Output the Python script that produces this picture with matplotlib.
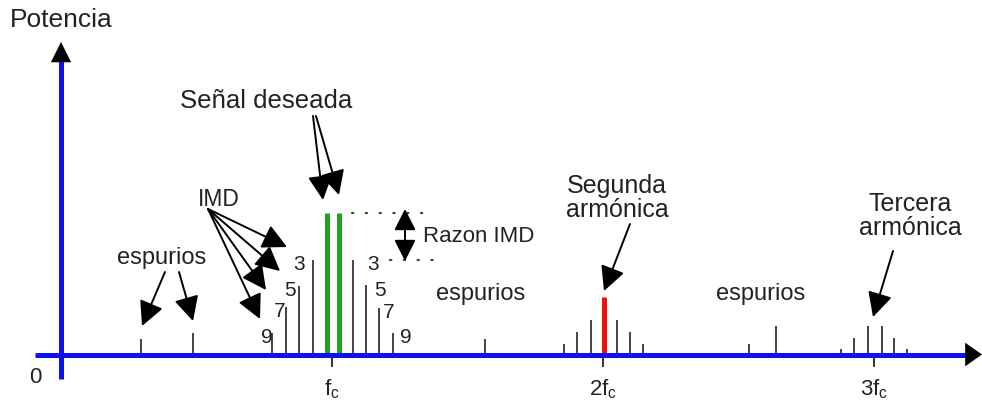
import numpy as np
import matplotlib
matplotlib.use("Agg")
import matplotlib.pyplot as plt

plt.rcParams['font.family'] = ['Liberation Sans', 'DejaVu Sans']
plt.rcParams['mathtext.fontset'] = 'custom'
plt.rcParams['mathtext.rm'] = 'Liberation Sans'
plt.rcParams['mathtext.it'] = 'Liberation Sans'
plt.rcParams['mathtext.default'] = 'rm'

# frequencies in multiples of fc, power in arbitrary units
spur_f = [0.294, 0.488, 1.563, 2.538, 2.638]
spur_p = [16, 22, 16, 11, 29]

imd_left_f = [0.780, 0.829, 0.879, 0.931]
imd_left_p = [22, 48, 69, 95]
imd_right_f = [1.079, 1.124, 1.175, 1.226]
imd_right_p = [95, 70, 47, 22]
imd_orders = ['9', '7', '5', '3']
imd_orders_right = ['3', '5', '7', '9']

tone_f = [0.980, 1.027]
tone_p = [142, 142]

h2_f = 2.004
h2_p = 58
h2_side_f = [1.857, 1.903, 1.955, 2.052, 2.100, 2.146]
h2_side_p = [11, 23, 35, 35, 23, 11]

h3_f = [2.877, 2.926, 2.977, 3.028, 3.075, 3.123]
h3_p = [6, 17, 29, 29, 17, 6]

harm_ticks = [1, 2, 3]
harm_labels = ['$f_c$', '$2f_c$', '$3f_c$']

# layout helpers: picture pixel -> data
X0, KX, Y0 = 61.0, 271.0, 355.5


def px(x, y):
    return ((x - X0) / KX, Y0 - y)


fig = plt.figure(figsize=(9.82, 4.02), dpi=100)
ax = fig.add_axes([0, 0, 1, 1])
ax.set_xlim(-X0 / KX, (982 - X0) / KX)
ax.set_ylim(Y0 - 402, Y0)
ax.axis('off')

txt = '#222222'
blue = '#1010f0'

# axes with black arrow heads
ax.plot([px(35, 0)[0], px(968, 0)[0]], [0, 0], color=blue, lw=3.6, solid_capstyle='butt', zorder=3)
ax.plot([0, 0], [px(0, 380)[1], px(0, 60)[1]], color=blue, lw=3.6, solid_capstyle='butt', zorder=3)
ax.annotate('', xy=px(982, Y0), xytext=px(965, Y0), annotation_clip=False,
            arrowprops=dict(arrowstyle='-|>,head_length=0.6,head_width=0.42', mutation_scale=20,
                            color='black', lw=0.1, shrinkA=0, shrinkB=0), zorder=4)
ax.annotate('', xy=px(X0, 43), xytext=px(X0, 64), annotation_clip=False,
            arrowprops=dict(arrowstyle='-|>,head_length=0.72,head_width=0.36', mutation_scale=20,
                            color='black', lw=0.1, shrinkA=0, shrinkB=0), zorder=4)

# spectral lines
thin = dict(colors='#222222', linewidth=1.2, zorder=2)
ax.vlines(spur_f, 0, spur_p, **thin)
ax.vlines(imd_left_f, 0, imd_left_p, **thin)
ax.vlines(imd_right_f, 0, imd_right_p, **thin)
ax.vlines(h2_side_f, 0, h2_side_p, **thin)
ax.vlines(h3_f, 0, h3_p, **thin)
ax.vlines(tone_f, 0, tone_p, colors='#1fa01f', linewidth=3.6, zorder=2)
ax.vlines([h2_f], 0, [h2_p], colors='#f01010', linewidth=3.6, zorder=2)

# harmonic ticks and labels
ax.vlines(harm_ticks, px(0, 368)[1], 0, colors='#222222', linewidth=1.3, zorder=2)
for f, lab in zip(harm_ticks, harm_labels):
    ax.text(f, px(0, 389)[1], lab, ha='center', va='center', fontsize=16, color=txt)
ax.text(*px(35, 378), '0', ha='center', va='center', fontsize=16, color=txt)
ax.text(*px(61, 20), 'Potencia', ha='center', va='center', fontsize=19, color=txt)

# IMD order numbers (pixel gap to the line)
left_gap = [0, 0, 3, 8]
right_gap = [14, 9, 3, 7]
for f, p, s, g in zip(imd_left_f, imd_left_p, imd_orders, left_gap):
    ax.text(f - g / KX, p + 5, s, ha='right', va='top', fontsize=15, color=txt)
for f, p, s, g in zip(imd_right_f, imd_right_p, imd_orders_right, right_gap):
    ax.text(f + g / KX, p + 5, s, ha='left', va='top', fontsize=15, color=txt)

# labels
ax.text(*px(266, 101), 'Señal deseada', ha='center', va='center', fontsize=18.5, color=txt)
ax.text(*px(219, 200), 'IMD', ha='center', va='center', fontsize=16.5, color=txt)
ax.text(*px(162, 258), 'espurios', ha='center', va='center', fontsize=17, color=txt)
ax.text(*px(481, 294), 'espurios', ha='center', va='center', fontsize=17, color=txt)
ax.text(*px(761, 294), 'espurios', ha='center', va='center', fontsize=17, color=txt)
ax.text(*px(423, 237), 'Razon IMD', ha='left', va='center', fontsize=16, color=txt)
ax.text(*px(617, 198), 'Segunda\narmónica', ha='center', va='center', fontsize=18,
        color=txt, linespacing=1.05)
ax.text(*px(910, 216), 'Tercera\narmónica', ha='center', va='center', fontsize=18,
        color=txt, linespacing=1.05)

# arrows
arr = dict(arrowstyle='-|>,head_length=0.75,head_width=0.38', mutation_scale=20,
           color='black', lw=1.4, shrinkA=0, shrinkB=0)
arrows = [
    ((313, 117), (323, 201)), ((316, 117), (339, 196)),
    ((208, 210), (287, 248)), ((208, 210), (280, 272)),
    ((208, 210), (266, 291)), ((208, 210), (260, 320)),
    ((165, 273), (142, 327)), ((179, 273), (193, 322)),
    ((630, 225), (604, 292)), ((893, 252), (873, 318)),
]
for start, tip in arrows:
    ax.annotate('', xy=px(*tip), xytext=px(*start), arrowprops=arr, zorder=5)

# Razon IMD double arrow and reference dots
ax.annotate('', xy=px(405, 210), xytext=px(405, 262),
            arrowprops=dict(arrowstyle='<|-|>,head_length=0.65,head_width=0.33', mutation_scale=20,
                            color='black', lw=1.4, shrinkA=0, shrinkB=0), zorder=5)
dots = dict(color='#444444', lw=1.6, linestyle=(0, (0.6, 5.6)), dash_capstyle='round')
ax.plot([px(352, 0)[0], px(434, 0)[0]], [tone_p[0], tone_p[0]], **dots)
ax.plot([px(390, 0)[0], px(434, 0)[0]], [imd_right_p[0], imd_right_p[0]], **dots)

fig.savefig('out.png', dpi=100)
